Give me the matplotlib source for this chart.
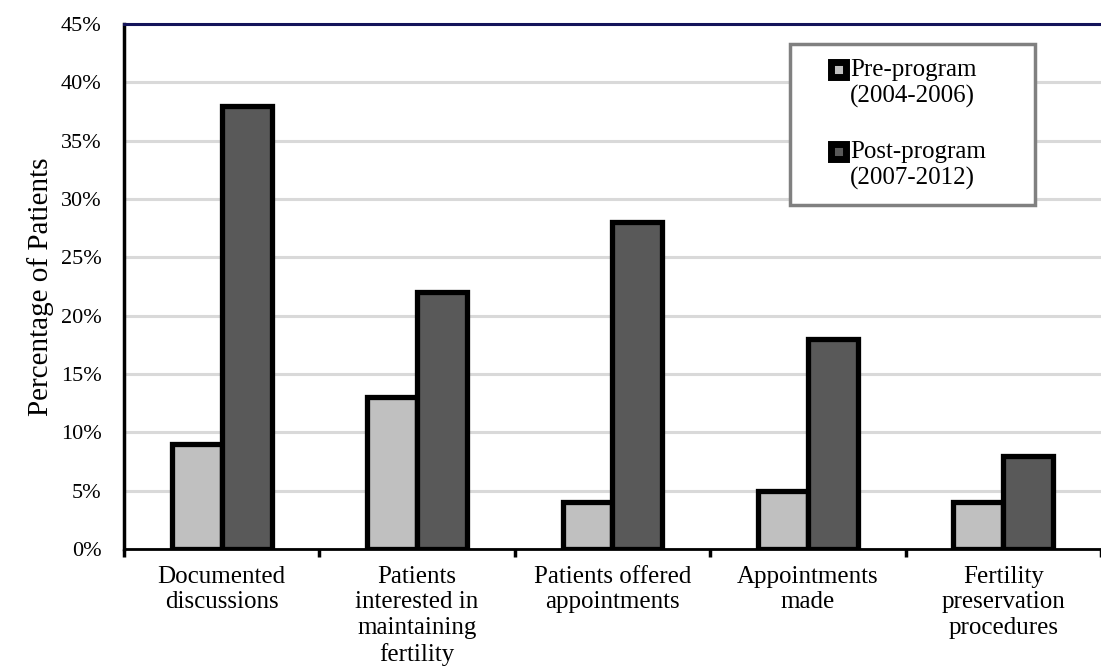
import matplotlib.pyplot as plt
from matplotlib.patches import Patch
from matplotlib.ticker import FixedLocator, PercentFormatter
import numpy as np

categories = [
    "Documented\ndiscussions",
    "Patients\ninterested in\nmaintaining\nfertility",
    "Patients offered\nappointments",
    "Appointments\nmade",
    "Fertility\npreservation\nprocedures",
]
pre_program = [9, 13, 4, 5, 4]
post_program = [38, 22, 28, 18, 8]
series_labels = ["Pre-program\n(2004-2006)", "Post-program\n(2007-2012)"]

plt.rcParams['font.family'] = ['Liberation Serif', 'DejaVu Serif']

fig = plt.figure(figsize=(11.01, 6.69), dpi=100)
ax = fig.add_axes([0.1126, 0.1794, 0.8874, 0.7847])

x = np.arange(len(categories))
w = 0.255
edge = 3.8
ax.bar(x - w / 2, pre_program, w, color='#c0c0c0', edgecolor='black',
       linewidth=edge, zorder=3)
ax.bar(x + w / 2, post_program, w, color='#595959', edgecolor='black',
       linewidth=edge, zorder=3)

ax.set_ylim(0, 45)
ax.set_xlim(-0.5, 4.485)
ax.yaxis.set_major_locator(FixedLocator(np.arange(0, 46, 5)))
ax.yaxis.set_major_formatter(PercentFormatter(decimals=0))
ax.grid(axis='y', color='#d9d9d9', linewidth=2.2, zorder=0)
ax.set_axisbelow(True)

ax.set_xticks(x)
ax.set_xticklabels(categories, fontsize=18, linespacing=1.22)
ax.set_xticks(np.arange(-0.5, 4.6, 1), minor=True)
ax.tick_params(axis='x', which='major', length=0, pad=12)
ax.tick_params(axis='x', which='minor', length=6, width=2.5, color='black')
ax.tick_params(axis='y', length=0, pad=16, labelsize=16)

ax.set_ylabel("Percentage of Patients", fontsize=21, labelpad=5)

ax.spines['right'].set_visible(False)
ax.spines['top'].set_color('#14145a')
ax.spines['top'].set_linewidth(2.2)
ax.spines['left'].set_linewidth(2.5)
ax.spines['bottom'].set_linewidth(2)

handles = [Patch(facecolor='#c0c0c0', edgecolor='black', linewidth=5,
                 joinstyle='round'),
           Patch(facecolor='#595959', edgecolor='black', linewidth=5,
                 joinstyle='round')]
leg = ax.legend(handles, series_labels, loc='upper left',
                bbox_to_anchor=(0.682, 0.962, 0.25, 0.0), mode='expand',
                fontsize=18, handlelength=1.64, handleheight=0.7,
                handletextpad=0.15, labelspacing=1.35, borderpad=0.6,
                borderaxespad=0, fancybox=False, framealpha=1,
                edgecolor='#808080')
leg.get_frame().set_linewidth(2.5)
# small square swatches sitting at the first line of each label
for h in leg.legend_handles:
    hw = h.get_width()
    h.set_x(h.get_x() + hw - 11)
    h.set_width(10.5)
    h.set_height(10.5)
    h.set_y(h.get_y() + 11)

fig.savefig("out.png", dpi=100)
